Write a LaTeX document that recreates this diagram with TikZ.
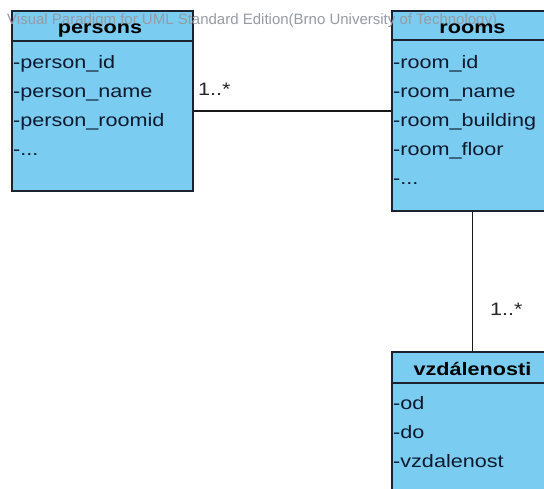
\documentclass[tikz,border=0pt]{standalone}
\usepackage{fontspec}
\setmainfont[FakeStretch=1.2]{Liberation Sans}
\newfontfamily\wmfont{Liberation Sans}
\definecolor{clsfill}{RGB}{122,204,240}
\definecolor{clsline}{RGB}{25,35,50}
\definecolor{attrtext}{RGB}{15,25,45}
\definecolor{wmgray}{RGB}{150,155,165}
\tikzset{
  classbox/.style={draw=clsline, fill=clsfill, line width=1.8pt, rectangle, inner sep=0pt},
  sepline/.style={draw=clsline, line width=1.4pt},
  header/.style={anchor=base, inner sep=0pt, font=\fontsize{18}{20}\selectfont\bfseries, text=black},
  attr/.style={anchor=base west, inner sep=0pt, font=\fontsize{18}{20}\selectfont, text=attrtext},
  mult/.style={anchor=base west, inner sep=0pt, font=\fontsize{18}{20}\selectfont, text=black!85},
  conn/.style={draw=black!90, line width=1.3pt},
}
\begin{document}
\begin{tikzpicture}[x=1pt,y=-1pt]
\clip (0,0) rectangle (544,488);
\useasboundingbox (0,0) rectangle (544,488);
\fill[white] (0,0) rectangle (544,488);

% boxes
\node[classbox, minimum width=181pt, minimum height=180pt] (persons) at (102.5,101) {};
\node[classbox, minimum width=161pt, minimum height=200pt] (rooms) at (472.5,111) {};
\node[classbox, minimum width=161pt, minimum height=152pt] (vz) at (472.5,428) {};

% header separators
\coordinate (psep) at (12,41);
\coordinate (rsep) at (392,40);
\coordinate (vsep) at (392,383);
\draw[sepline] (psep) -- (psep -| persons.east);
\draw[sepline] (rsep) -- (rsep -| rooms.east);
\draw[sepline] (vsep) -- (vsep -| vz.east);

% connectors
\draw[conn] (rooms.west) -- (rooms.west -| persons.east);
\draw[conn] (rooms.south) -- (vz.north);

% watermark
\node[anchor=base west, inner sep=0pt, text=wmgray, font=\wmfont\fontsize{15}{17}\selectfont] (wm) at (7,24)
  {Visual Paradigm for UML Standard Edition(Brno University of Technology)};

% headers
\node[header] (ph) at (100,33) {persons};
\node[header] (rh) at (472.5,33) {rooms};
\node[header] (vh) at (472.5,375) {vzdálenosti};

% persons attributes
\node[attr] (p1) at (13,68) {-person\_id};
\node[attr] (p2) at (13,97) {-person\_name};
\node[attr] (p3) at (13,126) {-person\_roomid};
\node[attr] (p4) at (13,155) {-...};

% rooms attributes
\node[attr] (r1) at (393,68) {-room\_id};
\node[attr] (r2) at (393,97) {-room\_name};
\node[attr] (r3) at (393,126) {-room\_building};
\node[attr] (r4) at (393,155) {-room\_floor};
\node[attr] (r5) at (393,184) {-...};

% vzdalenosti attributes
\node[attr] (v1) at (393,409) {-od};
\node[attr] (v2) at (393,438) {-do};
\node[attr] (v3) at (393,467) {-vzdalenost};

% multiplicities
\node[mult] (m1) at (198,95) {1..*};
\node[mult] (m2) at (490,315) {1..*};
\end{tikzpicture}
\end{document}
